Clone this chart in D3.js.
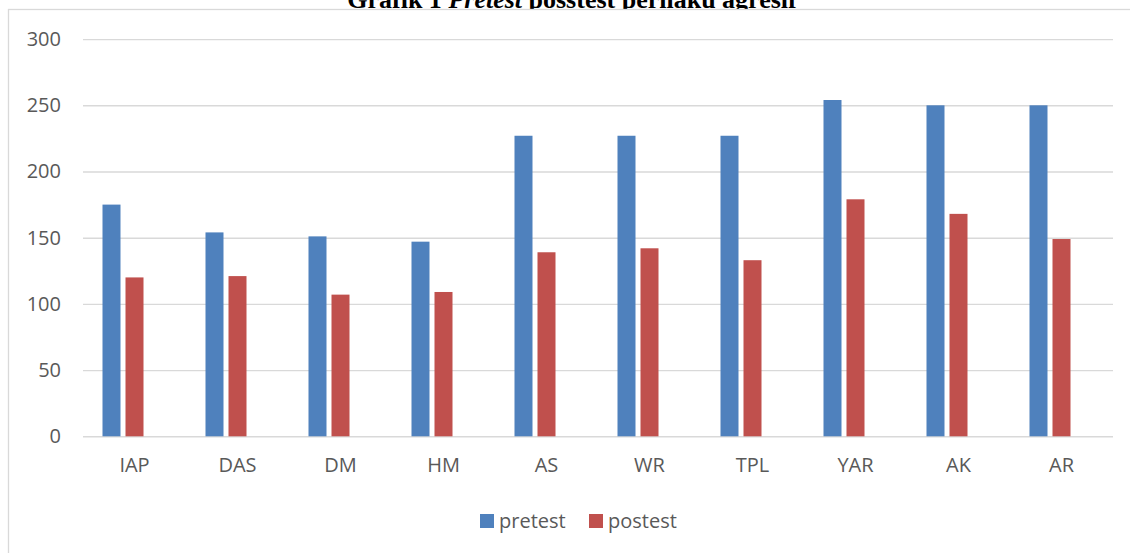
<!DOCTYPE html>
<meta charset="utf-8">

<!-- Load d3.js -->
<script src="https://d3js.org/d3.v7.min.js"></script>

<style>
  body {
    margin: 0;
    background: white;
  }

  .title {
    font-family: 'Liberation Serif', 'Times New Roman', serif;
    font-weight: bold;
    font-size: 26px;
    fill: #000;
  }

  .y .tick line {
    stroke: #d9d9d9;
    stroke-width: 1.4;
  }

  .x .domain, .y .domain {
    display: none;
  }

  .x .tick line {
    display: none;
  }

  .x .tick text, .y .tick text, .legend text {
    font-family: 'Open Sans', sans-serif;
    font-size: 20px;
    fill: #595959;
  }
</style>

<div id="my_dataviz"></div>

<script>

  // data
  const categories = ["IAP", "DAS", "DM", "HM", "AS", "WR", "TPL", "YAR", "AK", "AR"];
  const pretest = [175, 154, 151, 147, 227, 227, 227, 254, 250, 250];
  const postest = [120, 121, 107, 109, 139, 142, 133, 179, 168, 149];
  const seriesNames = ["pretest", "postest"];
  const seriesColors = ["#4f81bd", "#c0504d"];
  const yTicks = [0, 50, 100, 150, 200, 250, 300];

  const width = 1130, height = 553;
  const plot = {left: 83, right: 1113, top: 39.1, bottom: 436.3};

  const svg = d3.select("#my_dataviz")
    .append("svg")
      .attr("width", width)
      .attr("height", height);

  // title sits behind the chart box, only its lower part shows
  const title = svg.append("text")
    .attr("class", "title")
    .attr("text-anchor", "middle")
    .attr("x", 572)
    .attr("y", 7.5);
  title.append("tspan").text("Grafik 1 ");
  title.append("tspan").attr("font-style", "italic").text("Pretest");
  title.append("tspan").text(" posstest perilaku agresif");

  // chart box
  svg.append("rect")
    .attr("x", 8.5)
    .attr("y", 9.5)
    .attr("width", 1200)
    .attr("height", 600)
    .attr("fill", "white")
    .attr("stroke", "#d9d9d9")
    .attr("stroke-width", 1.3);

  // X scales: group band + sub band (Excel leaves a third empty slot)
  const x0 = d3.scaleBand()
    .domain(categories)
    .range([plot.left, plot.right])
    .paddingInner(0.33)
    .paddingOuter(0.165);

  const x1 = d3.scaleBand()
    .domain(seriesNames.concat(["_empty"]))
    .range([0, x0.bandwidth()])
    .paddingInner(5 / 23)
    .paddingOuter(2.5 / 23);

  const y = d3.scaleLinear()
    .domain([0, 300])
    .range([plot.bottom, plot.top]);

  // Y axis with gridlines
  svg.append("g")
    .attr("class", "y")
    .attr("transform", `translate(${plot.left},0)`)
    .call(d3.axisLeft(y)
      .tickValues(yTicks)
      .tickSizeInner(-(plot.right - plot.left))
      .tickSizeOuter(0)
      .tickPadding(22));

  // X axis labels
  svg.append("g")
    .attr("class", "x")
    .attr("transform", `translate(0,${plot.bottom})`)
    .call(d3.axisBottom(x0).tickSize(0).tickPadding(22));

  // bars
  const rows = categories.map((c, i) => ({cat: c, values: [pretest[i], postest[i]]}));

  const groups = svg.append("g")
    .selectAll("g")
    .data(rows)
    .join("g")
      .attr("transform", d => `translate(${x0(d.cat)},0)`);

  groups.selectAll("rect")
    .data(d => d.values.map((v, j) => ({key: seriesNames[j], value: v, color: seriesColors[j]})))
    .join("rect")
      .attr("x", d => x1(d.key))
      .attr("y", d => y(d.value))
      .attr("width", x1.bandwidth())
      .attr("height", d => y(0) - y(d.value))
      .attr("fill", d => d.color);

  // legend
  const legend = svg.append("g").attr("class", "legend");
  const legendX = [480, 589];
  seriesNames.forEach((name, j) => {
    legend.append("rect")
      .attr("x", legendX[j])
      .attr("y", 514)
      .attr("width", 14)
      .attr("height", 14)
      .attr("fill", seriesColors[j]);
    legend.append("text")
      .attr("x", legendX[j] + 19)
      .attr("y", 528)
      .text(name);
  });

</script>
